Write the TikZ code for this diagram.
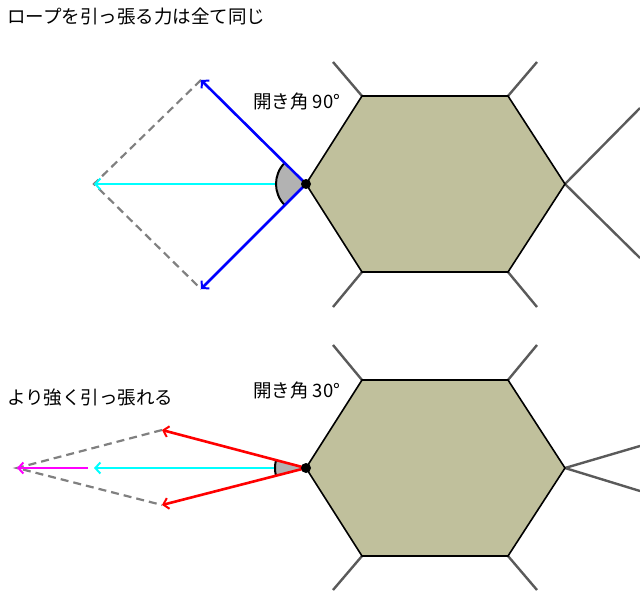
\documentclass[tikz,border=0pt]{standalone}
\usepackage{fontspec}
\setmainfont{Noto Sans CJK JP}
\usetikzlibrary{arrows.meta}
\definecolor{hexfill}{RGB}{192,192,156}
\definecolor{ropegray}{RGB}{90,90,90}
\definecolor{dashgray}{RGB}{128,128,128}
\definecolor{sectgray}{RGB}{178,178,178}
\definecolor{pcyan}{RGB}{0,255,255}
\definecolor{pmagenta}{RGB}{255,0,255}
\definecolor{pblue}{RGB}{0,0,255}
\definecolor{pred}{RGB}{255,0,0}
\tikzset{
  hexbox/.style={draw=black,line width=1.6pt,fill=hexfill,line join=miter},
  rope/.style={draw=ropegray,line width=2.4pt},
  force/.style={line width=2.6pt,-{Straight Barb[length=5pt,width=11pt,line width=2pt]}},
  guide/.style={draw=dashgray,line width=2.2pt,dash pattern=on 8pt off 5pt},
  lbl/.style={font=\fontsize{18.5pt}{20pt}\selectfont,anchor=west,inner sep=0pt},
  sector/.style={fill=sectgray},
  arcline/.style={draw=black,line width=2pt},
}
\begin{document}
\begin{tikzpicture}[x=1pt,y=-1pt]
\useasboundingbox (0,0) rectangle (640,605);
% ---------- top ----------
\coordinate (A) at (306,184);
\coordinate (A1) at (362,96);
\coordinate (A2) at (508,96);
\coordinate (A3) at (565,184);
\coordinate (A4) at (508,272);
\coordinate (A5) at (362,272);
\coordinate (a1) at (333,62);
\coordinate (a2) at (537,62);
\coordinate (a4) at (537,307);
\coordinate (a5) at (333,307);
\coordinate (a3u) at (640,108);
\coordinate (a3d) at (640,258);
\draw[rope] (A1) -- (a1) (A2) -- (a2) (A4) -- (a4) (A5) -- (a5) (A3) -- (a3u) (A3) -- (a3d);
\draw[hexbox] (A) -- (A1) -- (A2) -- (A3) -- (A4) -- (A5) -- cycle;
\coordinate (TU) at (201,80);
\coordinate (TD) at (201,289);
\coordinate (TL) at (94,184);
\draw[guide] (TU) -- (TL) -- (TD);
\draw[force,pcyan] (A) -- (TL);
\fill[sector] (A) -- ++(135:30) arc[start angle=135,end angle=225,radius=30] -- cycle;
\draw[arcline] (A) ++(135:30) arc[start angle=135,end angle=225,radius=30];
\draw[force,pblue] (A) -- (TU);
\draw[force,pblue] (A) -- (TD);
\fill (A) circle[radius=5];
\node[lbl] (t1) at (7,16) {ロープを引っ張る力は全て同じ};
\node[lbl] (t2) at (253,101) {開き角 90°};
% ---------- bottom ----------
\coordinate (B) at (306,468);
\coordinate (B1) at (362,380);
\coordinate (B2) at (508,380);
\coordinate (B3) at (565,468);
\coordinate (B4) at (508,556);
\coordinate (B5) at (362,556);
\coordinate (b1) at (333,345);
\coordinate (b2) at (537,345);
\coordinate (b4) at (537,590);
\coordinate (b5) at (333,590);
\coordinate (b3u) at (640,446);
\coordinate (b3d) at (640,491);
\draw[rope] (B1) -- (b1) (B2) -- (b2) (B4) -- (b4) (B5) -- (b5) (B3) -- (b3u) (B3) -- (b3d);
\draw[hexbox] (B) -- (B1) -- (B2) -- (B3) -- (B4) -- (B5) -- cycle;
\coordinate (RU) at (162,430);
\coordinate (RD) at (162,505);
\coordinate (ML) at (17,468);
\coordinate (MR) at (88,468);
\coordinate (CL) at (94,468);
\draw[guide] (RU) -- (ML) -- (RD);
\draw[force,pcyan] (B) -- (CL);
\draw[force,pmagenta] (MR) -- (ML);
\fill[sector] (B) -- ++(165:31) arc[start angle=165,end angle=195,radius=31] -- cycle;
\draw[arcline] (B) ++(165:31) arc[start angle=165,end angle=195,radius=31];
\draw[force,pred] (B) -- (RU);
\draw[force,pred] (B) -- (RD);
\fill (B) circle[radius=5];
\node[lbl] (t3) at (7,398) {より強く引っ張れる};
\node[lbl] (t4) at (253,390) {開き角 30°};
\end{tikzpicture}
\end{document}
